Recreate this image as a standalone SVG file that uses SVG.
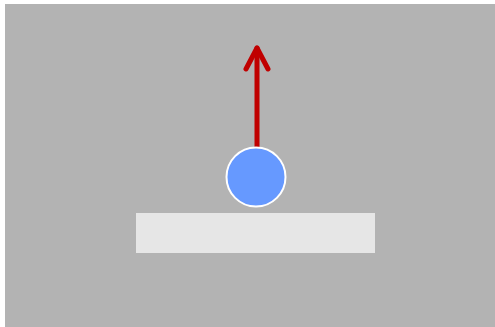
<svg xmlns="http://www.w3.org/2000/svg" width="495" height="327" viewBox="0 0 495 327">
<style>
.arrow{fill:none;stroke:#c00000;stroke-width:5;stroke-linecap:round;stroke-linejoin:round}
</style>
<rect x="5" y="4" width="490" height="323" fill="#b3b3b3"/>
<g id="platform"><rect x="136" y="213" width="239" height="40" fill="#e6e6e6"/></g>
<g id="connectors"><line class="arrow" x1="257" y1="147" x2="257" y2="48"/><polyline class="arrow" points="246,69 257,48 268,69"/></g>
<g id="ball"><circle cx="256" cy="177" r="29.5" fill="#6699ff" stroke="#ffffff" stroke-width="2"/></g>
</svg>
